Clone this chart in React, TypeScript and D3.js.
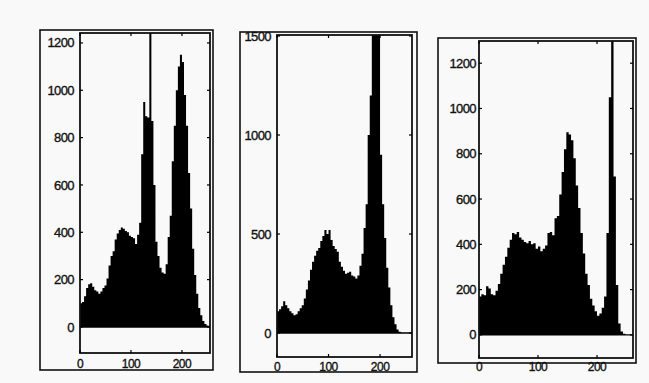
import React from 'react';
import * as d3 from 'd3';

// histogram counts, 4 grey levels per bin (0-3, 4-7, ...)
const countsA = [
  100, 105, 130, 165, 180, 185, 170, 155, 150, 140, 150, 165, 175, 205, 260, 300,
  320, 370, 395, 410, 420, 415, 405, 400, 385, 380, 375, 350, 390, 440, 730, 950,
  890, 885, 1400, 870, 600, 360, 300, 250, 230, 225, 265, 380, 470, 700, 850, 1000,
  1100, 1150, 1120, 980, 850, 650, 500, 330, 220, 140, 80, 50, 25, 12, 6, 2,
];
const countsB = [
  110, 120, 135, 160, 140, 125, 110, 100, 90, 95, 110, 125, 140, 175, 220, 265,
  320, 360, 390, 415, 430, 465, 490, 520, 500, 520, 470, 440, 425, 410, 360, 335,
  315, 300, 305, 310, 290, 285, 275, 290, 340, 400, 530, 650, 1000, 1200, 1700, 1800,
  1800, 1700, 900, 650, 480, 330, 230, 140, 80, 45, 18, 6, 2, 0, 0, 0,
];
const countsC = [
  170, 180, 175, 215, 205, 180, 175, 195, 225, 270, 310, 345, 385, 420, 450, 445,
  455, 430, 420, 410, 405, 415, 400, 405, 380, 390, 370, 380, 395, 450, 455, 440,
  515, 525, 620, 720, 820, 895, 885, 860, 780, 660, 560, 450, 360, 270, 220, 160,
  130, 105, 85, 95, 120, 170, 450, 1050, 1400, 700, 220, 50, 15, 5, 0, 0,
];

const ticksA = [0, 200, 400, 600, 800, 1000, 1200];
const ticksB = [0, 500, 1000, 1500];
const ticksC = [0, 200, 400, 600, 800, 1000, 1200];
const xTicks = [0, 100, 200];

const BIN = 4;

type Box = { x0: number; y0: number; x1: number; y1: number };
type PanelProps = {
  id: string;
  counts: number[];
  yTicks: number[];
  yDomain: [number, number];
  xMax: number;
  frame: Box;
  axes: Box;
  labelX: number;
  xLabelY: number;
};

const Panel = ({ id, counts, yTicks, yDomain, xMax, frame, axes, labelX, xLabelY }: PanelProps) => {
  const x = d3.scaleLinear().domain([0, xMax]).range([axes.x0, axes.x1]);
  const y = d3.scaleLinear().domain(yDomain).range([axes.y1, axes.y0]);
  const y0 = y(0);
  const pts: [number, number][] = counts.map((v, i) => [i * BIN, v]);
  pts.push([counts.length * BIN, 0]);
  const area = d3.area<[number, number]>()
    .x(d => x(d[0]))
    .y0(y0)
    .y1(d => y(d[1]))
    .curve(d3.curveStepAfter);
  const txt = { fill: '#111', stroke: '#111', strokeWidth: 0.35 };
  return (
    <g>
      <defs>
        <clipPath id={`clip-${id}`}>
          <rect x={axes.x0} y={axes.y0} width={axes.x1 - axes.x0} height={axes.y1 - axes.y0} />
        </clipPath>
      </defs>
      <rect x={frame.x0} y={frame.y0} width={frame.x1 - frame.x0} height={frame.y1 - frame.y0}
        fill="none" stroke="#111" strokeWidth={1.6} />
      <path d={area(pts) || ''} fill="#000" clipPath={`url(#clip-${id})`} />
      <line x1={axes.x0} x2={axes.x1} y1={y0} y2={y0} stroke="#000" strokeWidth={1.4} />
      <rect x={axes.x0} y={axes.y0} width={axes.x1 - axes.x0} height={axes.y1 - axes.y0}
        fill="none" stroke="#111" strokeWidth={1.8} />
      {yTicks.map(t => (
        <g key={t}>
          <line x1={axes.x0} x2={axes.x0 + 3} y1={y(t)} y2={y(t)} stroke="#000" strokeWidth={1.2} />
          <line x1={axes.x1 - 3} x2={axes.x1} y1={y(t)} y2={y(t)} stroke="#000" strokeWidth={1.2} />
          <text x={labelX} y={y(t)} dy="0.35em" textAnchor="end" fontSize={13}
            letterSpacing={-0.6} {...txt}>{t}</text>
        </g>
      ))}
      {xTicks.map(t => (
        <g key={t}>
          <line x1={x(t)} x2={x(t)} y1={axes.y1} y2={axes.y1 - 3} stroke="#000" strokeWidth={1.2} />
          <line x1={x(t)} x2={x(t)} y1={axes.y0} y2={axes.y0 + 3} stroke="#000" strokeWidth={1.2} />
          <text x={x(t)} y={xLabelY} dy="0.35em" textAnchor="middle" fontSize={12}
            letterSpacing={-0.5} {...txt}>{t}</text>
        </g>
      ))}
    </g>
  );
};

const App = () => {
  return (
    <svg width={649} height={383} style={{ position: 'absolute', left: 0, top: 0, background: '#f9f9f9' }}
      fontFamily="Liberation Sans, Arial, sans-serif">
      <Panel id="a" counts={countsA} yTicks={ticksA} yDomain={[-110, 1242]} xMax={255}
        frame={{ x0: 40, y0: 30, x1: 213, y1: 370 }}
        axes={{ x0: 80, y0: 33, x1: 210, y1: 353 }} labelX={74} xLabelY={364} />
      <Panel id="b" counts={countsB} yTicks={ticksB} yDomain={[-121, 1505]} xMax={262}
        frame={{ x0: 240, y0: 32, x1: 417, y1: 372 }}
        axes={{ x0: 277, y0: 35, x1: 412, y1: 357 }} labelX={271} xLabelY={367} />
      <Panel id="c" counts={countsC} yTicks={ticksC} yDomain={[-102, 1298]} xMax={261}
        frame={{ x0: 438, y0: 38, x1: 636, y1: 363 }}
        axes={{ x0: 479, y0: 41, x1: 633, y1: 358 }} labelX={476} xLabelY={367} />
    </svg>
  );
};

export default App;
